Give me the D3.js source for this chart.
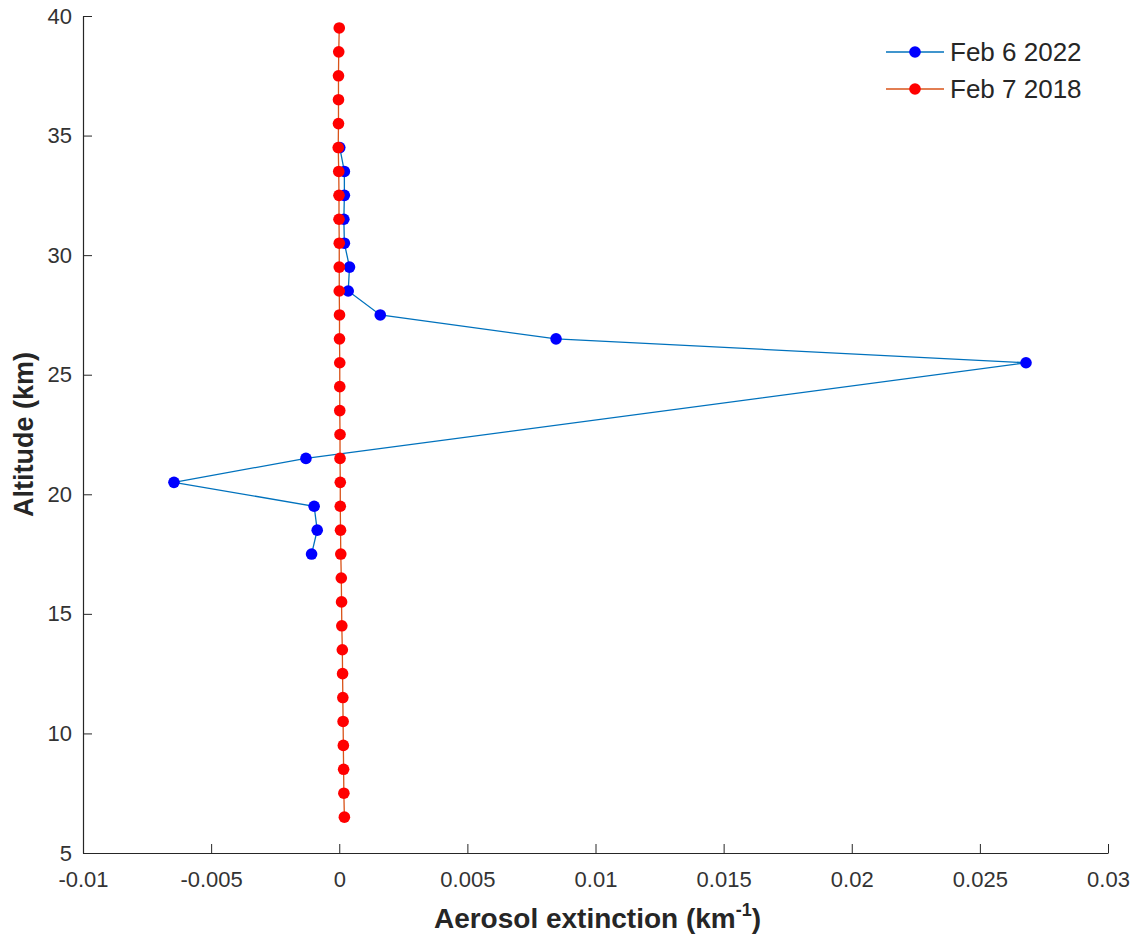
<!DOCTYPE html>
<html lang="en">
<head>
<meta charset="UTF-8">
<title>Aerosol extinction profile</title>
<script src="https://d3js.org/d3.v7.min.js"></script>
<style>
  body { margin: 0; background: #fff; font-family: 'Liberation Sans', Arial, sans-serif; }
  .axis path, .axis line { stroke: #262626; }
  .axis text { fill: #333; }
</style>
</head>
<body>
<svg width="1138" height="940"></svg>
<script>
// Feb 6 2022 profile (altitude km, extinction km^-1)
const altFeb2022 = [34.5, 33.5, 32.5, 31.5, 30.5, 29.5, 28.5, 27.5, 26.5, 25.5, 21.5, 20.5, 19.5, 18.5, 17.5];
const extFeb2022 = [0.00002, 0.0002, 0.0002, 0.00018, 0.0002, 0.0004, 0.00035, 0.0016, 0.00846, 0.0268, -0.0013, -0.00645, -0.00098, -0.00086, -0.00108];

// Feb 7 2018 profile
const altFeb2018 = [39.5, 38.5, 37.5, 36.5, 35.5, 34.5, 33.5, 32.5, 31.5, 30.5, 29.5, 28.5, 27.5, 26.5, 25.5, 24.5, 23.5, 22.5, 21.5, 20.5, 19.5, 18.5, 17.5, 16.5, 15.5, 14.5, 13.5, 12.5, 11.5, 10.5, 9.5, 8.5, 7.5, 6.5];
const extFeb2018 = [0.0, -0.00002, -0.00003, -0.00003, -0.00003, -0.00004, -0.00002, -0.00001, -0.00001, 0.0, 0.0, 0.0, 0.00001, 0.00001, 0.00002, 0.00002, 0.00002, 0.00003, 0.00003, 0.00004, 0.00004, 0.00005, 0.00006, 0.00008, 0.00009, 0.0001, 0.00012, 0.00013, 0.00014, 0.00015, 0.00016, 0.00017, 0.00018, 0.0002];

const xTicks = [-0.01, -0.005, 0, 0.005, 0.01, 0.015, 0.02, 0.025, 0.03];
const yTicks = [5, 10, 15, 20, 25, 30, 35, 40];

const seriesNames = ["Feb 6 2022", "Feb 7 2018"];

const svg = d3.select("svg");
const margin = { top: 16, right: 30, bottom: 87, left: 83 };
const width = 1138 - margin.left - margin.right;
const height = 940 - margin.top - margin.bottom;

const x = d3.scaleLinear().domain([-0.01, 0.03]).range([0, width]);
const y = d3.scaleLinear().domain([5, 40]).range([height, 0]);

const g = svg.append("g").attr("transform", `translate(${margin.left},${margin.top})`);

const fmt = v => String(+v.toFixed(3));

// axes, ticks pointing inward like MATLAB
const xAxis = g.append("g")
    .attr("class", "axis")
    .attr("transform", `translate(0,${height})`)
    .call(d3.axisBottom(x).tickValues(xTicks).tickFormat(fmt).tickSizeInner(-9).tickSizeOuter(0).tickPadding(18));
xAxis.selectAll("text").attr("font-size", 22).attr("font-family", "'Liberation Sans', Arial, sans-serif");

const yAxis = g.append("g")
    .attr("class", "axis")
    .call(d3.axisLeft(y).tickValues(yTicks).tickSizeInner(-9).tickSizeOuter(0).tickPadding(11));
yAxis.selectAll("text").attr("font-size", 22).attr("font-family", "'Liberation Sans', Arial, sans-serif");
g.selectAll(".axis path").attr("stroke-width", 1.2);

// axis labels
const xl = g.append("text")
    .attr("x", width / 2 + 2)
    .attr("y", height + 75)
    .attr("text-anchor", "middle")
    .attr("font-size", 28)
    .attr("font-weight", "bold")
    .attr("fill", "#262626");
xl.append("tspan").text("Aerosol extinction (km");
xl.append("tspan").attr("dy", -12).attr("font-size", 18).text("-1");
xl.append("tspan").attr("dy", 12).text(")");

g.append("text")
    .attr("transform", `translate(${-50},${height / 2}) rotate(-90)`)
    .attr("text-anchor", "middle")
    .attr("font-size", 27)
    .attr("font-weight", "bold")
    .attr("fill", "#262626")
    .attr("textLength", 165)
    .attr("lengthAdjust", "spacingAndGlyphs")
    .text("Altitude (km)");

// series
const data2022 = altFeb2022.map((a, i) => ({ alt: a, ext: extFeb2022[i] }));
const data2018 = altFeb2018.map((a, i) => ({ alt: a, ext: extFeb2018[i] }));

const line = d3.line().x(d => x(d.ext)).y(d => y(d.alt));

const series = [
    { name: seriesNames[0], data: data2022, line: "#0072BD", marker: "#0000ff" },
    { name: seriesNames[1], data: data2018, line: "#D95319", marker: "#ff0000" }
];

series.forEach(s => {
    g.append("path")
        .datum(s.data)
        .attr("fill", "none")
        .attr("stroke", s.line)
        .attr("stroke-width", 1.3)
        .attr("d", line);
    g.selectAll(null)
        .data(s.data)
        .join("circle")
        .attr("cx", d => x(d.ext))
        .attr("cy", d => y(d.alt))
        .attr("r", 5.8)
        .attr("fill", s.marker);
});

// legend
const legend = g.append("g").attr("transform", `translate(${886 - margin.left},${52 - margin.top})`);
series.forEach((s, i) => {
    const row = legend.append("g").attr("transform", `translate(0,${i * 37})`);
    row.append("line").attr("x1", 0).attr("x2", 58).attr("stroke", s.line).attr("stroke-width", 1.3);
    row.append("circle").attr("cx", 29).attr("r", 5.8).attr("fill", s.marker);
    row.append("text")
        .attr("x", 64)
        .attr("dy", "0.36em")
        .attr("font-size", 26)
        .attr("fill", "#262626")
        .text(s.name);
});
</script>
</body>
</html>
